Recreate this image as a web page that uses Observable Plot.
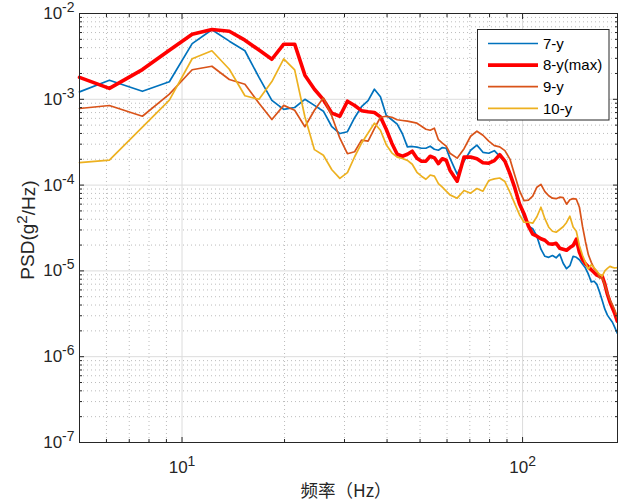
<!DOCTYPE html>
<html><head><meta charset="utf-8">
<script src="https://cdn.jsdelivr.net/npm/d3@7"></script>
<script src="https://cdn.jsdelivr.net/npm/@observablehq/plot@0.6"></script>
<style>html,body{margin:0;padding:0;background:#fff}svg{display:block}</style>
</head><body><div id="chart"></div>
<script>
// Frequency (Hz)
const freq = [5, 6.12, 7.65, 9.18, 10.71, 12.24, 13.77, 15.3, 16.83, 18.36, 19.89, 21.42, 22.95, 24.48, 26.01, 27.54, 29.07, 30.6, 32.13, 33.66, 35.19, 36.72, 38.25, 39.78, 41.31, 42.84, 44.37, 45.9, 47.43, 48.96, 50.49, 52.02, 53.55, 55.08, 56.61, 58.14, 59.67,
  61.2, 64.26, 67.32, 70.38, 73.44, 76.5, 79.56, 82.62, 85.68, 88.74, 91.8, 94.86, 97.92, 100.98, 104.04, 107.1, 110.16, 113.22, 116.28, 119.34, 122.4, 125.46, 128.52, 131.58, 134.64, 137.7, 140.76, 143.82, 146.88, 149.94, 153.0, 156.06, 159.12, 162.18, 165.24, 168.3, 171.36, 174.42, 177.48, 180.54, 183.6, 186.66, 189.72];

// PSD (g^2/Hz)
const psd7y = [1.22e-3, 1.67e-3, 1.24e-3, 1.6e-3, 4.45e-3, 6.47e-3, 4.76e-3, 3.68e-3, 1.8e-3, 9.7e-4, 7.63e-4, 8.03e-4, 1.0e-3, 8.49e-4, 7.27e-4, 4.79e-4, 3.99e-4, 4.19e-4, 6.1e-4, 8.2e-4, 9.63e-4, 1.31e-3, 1.07e-3, 6.52e-4, 5.78e-4, 5.13e-4, 3.97e-4, 2.79e-4, 2.82e-4, 2.77e-4, 2.69e-4, 2.69e-4, 2.84e-4, 2.62e-4, 2.55e-4, 2.74e-4, 2.69e-4,
  2.06e-4, 1.34e-4, 1.9e-4, 2.55e-4, 2.92e-4, 2.41e-4, 2.35e-4, 2.52e-4, 2.17e-4, 1.85e-4, 1.38e-4, 8.96e-5, 5.99e-5, 4.22e-5, 3.32e-5, 3.1e-5, 2.54e-5, 1.79e-5, 1.48e-5, 1.44e-5, 1.51e-5, 1.42e-5, 1.57e-5, 1.23e-5, 1.06e-5, 1.15e-5, 1.48e-5, 1.44e-5, 1.35e-5, 1.2e-5, 1.08e-5, 9.15e-6, 7.44e-6, 7.58e-6, 6.96e-6, 5.67e-6, 4.52e-6, 3.58e-6, 3.05e-6, 2.76e-6, 2.52e-6, 2.18e-6, 1.88e-6];

const psd8y = [1.8e-3, 1.34e-3, 2.22e-3, 3.73e-3, 5.74e-3, 6.51e-3, 6.22e-3, 4.89e-3, 3.75e-3, 2.93e-3, 4.39e-3, 4.39e-3, 1.91e-3, 1.31e-3, 9.9e-4, 6.89e-4, 6.35e-4, 9.5e-4, 8.47e-4, 7.37e-4, 7.17e-4, 7.02e-4, 6.24e-4, 4.48e-4, 3.08e-4, 2.29e-4, 2.17e-4, 2.29e-4, 2.48e-4, 2.06e-4, 1.9e-4, 1.9e-4, 2.17e-4, 2.08e-4, 1.78e-4, 2.03e-4, 1.95e-4,
  1.49e-4, 1.11e-4, 2.12e-4, 2.12e-4, 2.03e-4, 1.82e-4, 1.8e-4, 1.93e-4, 2.26e-4, 1.9e-4, 1.36e-4, 9.33e-5, 6.07e-5, 4.64e-5, 3.32e-5, 2.68e-5, 2.54e-5, 2.37e-5, 2.28e-5, 2.07e-5, 2.05e-5, 2.1e-5, 1.84e-5, 1.79e-5, 1.74e-5, 1.87e-5, 1.98e-5, 2.34e-5, 1.65e-5, 1.36e-5, 1.21e-5, 1.12e-5, 1.03e-5, 9.58e-6, 8.91e-6, 8.63e-6, 8.63e-6, 7.0e-6, 5.35e-6, 4.34e-6, 3.7e-6, 3.16e-6, 2.6e-6];

const psd9y = [7.81e-4, 8.47e-4, 6.35e-4, 1.15e-3, 2.21e-3, 2.43e-3, 1.7e-3, 1.5e-3, 9.0e-4, 5.81e-4, 8.49e-4, 7.46e-4, 4.79e-4, 7.46e-4, 1.04e-3, 6.35e-4, 3.52e-4, 2.32e-4, 2.45e-4, 3.34e-4, 3.25e-4, 4.54e-4, 6.18e-4, 6.35e-4, 6.18e-4, 5.78e-4, 5.66e-4, 5.56e-4, 5.41e-4, 5.27e-4, 4.86e-4, 4.48e-4, 4.36e-4, 4.6e-4, 3.38e-4, 3.08e-4, 2.84e-4,
  2.35e-4, 2.06e-4, 2.66e-4, 3.71e-4, 4.25e-4, 3.81e-4, 3.25e-4, 2.88e-4, 2.79e-4, 2.52e-4, 2.01e-4, 1.3e-4, 8.6e-5, 6.58e-5, 6.67e-5, 7.42e-5, 9.45e-5, 1.02e-4, 8.38e-5, 7.52e-5, 7.04e-5, 6.94e-5, 7.23e-5, 7.14e-5, 5.99e-5, 6.76e-5, 6.96e-5, 6.85e-5, 5.52e-5, 3.32e-5, 2.19e-5, 1.54e-5, 1.26e-5, 1.07e-5, 9.9e-6, 8.29e-6, 8.29e-6, 6.9e-6, 5.49e-6, 4.59e-6, 4.01e-6, 3.48e-6, 2.85e-6];

const psd10y = [1.83e-4, 1.95e-4, 4.73e-4, 9.76e-4, 2.97e-3, 3.68e-3, 2.24e-3, 1.1e-3, 1.0e-3, 1.61e-3, 2.96e-3, 2.2e-3, 6.27e-4, 2.59e-4, 2.23e-4, 1.51e-4, 1.2e-4, 1.4e-4, 2.14e-4, 3.08e-4, 4.05e-4, 5.27e-4, 4.36e-4, 2.96e-4, 2.38e-4, 2.12e-4, 2.04e-4, 1.94e-4, 1.75e-4, 1.41e-4, 1.27e-4, 1.17e-4, 1.31e-4, 1.27e-4, 1.04e-4, 9.45e-5, 8.53e-5,
  7.69e-5, 7.04e-5, 8.65e-5, 8.05e-5, 9.13e-5, 8.49e-5, 1.13e-4, 1.18e-4, 1.21e-4, 1.1e-4, 8.26e-5, 6.07e-5, 4.52e-5, 3.69e-5, 3.69e-5, 3.6e-5, 4.28e-5, 5.52e-5, 4.06e-5, 3.23e-5, 2.9e-5, 2.82e-5, 3.04e-5, 3.27e-5, 3.67e-5, 4.34e-5, 3.25e-5, 2.9e-5, 1.97e-5, 1.52e-5, 1.25e-5, 1.05e-5, 1.18e-5, 1.09e-5, 9.9e-6, 9.15e-6, 8.67e-6, 1.0e-5, 1.07e-5, 1.13e-5, 1.1e-5, 1.08e-5, 1.09e-5];

const seriesNames = ["7-y", "8-y(max)", "9-y", "10-y"];
const seriesValues = [psd7y, psd8y, psd9y, psd10y];
const seriesColors = ["#0072BD", "#FF0000", "#D95319", "#EDB120"];
const seriesWidths = [1.7, 3.6, 1.7, 1.7];

// axis ticks / grid
const xMajor = [10, 100];
const xMinor = [6, 7, 8, 9, 20, 30, 40, 50, 60, 70, 80, 90];
const yMajor = [1e-7, 1e-6, 1e-5, 1e-4, 1e-3, 1e-2];
const yMinor = [2e-7,3e-7,4e-7,5e-7,6e-7,7e-7,8e-7,9e-7, 2e-6,3e-6,4e-6,5e-6,6e-6,7e-6,8e-6,9e-6, 2e-5,3e-5,4e-5,5e-5,6e-5,7e-5,8e-5,9e-5, 2e-4,3e-4,4e-4,5e-4,6e-4,7e-4,8e-4,9e-4, 2e-3,3e-3,4e-3,5e-3,6e-3,7e-3,8e-3,9e-3];
const xLabel = "频率（Hz）";
const yLabelParts = ["PSD(g", "2", "/Hz)"];

const rows = seriesNames.flatMap((name, s) => freq.map((f, i) => ({f, v: seriesValues[s][i], name})));
const expFmt = d => `10^${Math.round(Math.log10(d))}`;
const blank = () => "";
const axisColor = "#262626";

const chart = Plot.plot({
  width: 618, height: 503,
  marginLeft: 79, marginRight: 1, marginTop: 13, marginBottom: 61,
  style: {fontFamily: "'Liberation Sans', Arial, sans-serif", fontSize: "17px", color: axisColor, background: "#fff"},
  x: {type: "log", domain: [5, 190]},
  y: {type: "log", domain: [1e-7, 1e-2]},
  marks: [
    Plot.ruleX(xMinor, {stroke: "#b4b4b4", strokeDasharray: "1,3", strokeWidth: 0.9}),
    Plot.ruleY(yMinor, {stroke: "#b4b4b4", strokeDasharray: "1,3", strokeWidth: 0.9}),
    Plot.ruleX(xMajor, {stroke: "#dcdcdc", strokeWidth: 1}),
    Plot.ruleY(yMajor, {stroke: "#dcdcdc", strokeWidth: 1}),
    ...seriesNames.map((name, s) => Plot.line(rows.filter(r => r.name === name), {
      x: "f", y: "v", stroke: seriesColors[s], strokeWidth: seriesWidths[s], strokeLinejoin: "round"
    })),
    Plot.frame({stroke: axisColor, strokeWidth: 1}),
    Plot.axisX({anchor: "bottom", ticks: xMajor, tickSize: 0, tickPadding: 18, tickFormat: expFmt, label: null, fontSize: 17}),
    Plot.axisY({anchor: "left", ticks: yMajor, tickSize: 0, tickPadding: 5, tickFormat: expFmt, label: null, fontSize: 17}),
    Plot.axisX({anchor: "bottom", ticks: xMajor, tickSize: -5, tickFormat: blank, label: null}),
    Plot.axisX({anchor: "bottom", ticks: xMinor, tickSize: -3, tickFormat: blank, label: null}),
    Plot.axisX({anchor: "top", ticks: xMajor, tickSize: -5, tickFormat: blank, label: null}),
    Plot.axisX({anchor: "top", ticks: xMinor, tickSize: -3, tickFormat: blank, label: null}),
    Plot.axisY({anchor: "left", ticks: yMajor, tickSize: -5, tickFormat: blank, label: null}),
    Plot.axisY({anchor: "left", ticks: yMinor, tickSize: -3, tickFormat: blank, label: null}),
    Plot.axisY({anchor: "right", ticks: yMajor, tickSize: -5, tickFormat: blank, label: null}),
    Plot.axisY({anchor: "right", ticks: yMinor, tickSize: -3, tickFormat: blank, label: null})
  ]
});
document.getElementById("chart").appendChild(chart);

// superscript exponents in tick labels
const svg = d3.select(chart);
svg.selectAll("text").each(function() {
  const t = this.textContent;
  const m = /^10\^(-?\d+)$/.exec(t);
  if (!m) return;
  const el = d3.select(this);
  el.text(null);
  el.append("tspan").text("10");
  el.append("tspan").attr("dy", "-0.5em").attr("font-size", "0.82em").text(m[1]);
});

// axis titles
const yl = svg.append("text")
  .attr("transform", "translate(27,230) rotate(-90)")
  .attr("text-anchor", "middle").attr("dy", "0.35em")
  .attr("font-size", 19).attr("fill", axisColor);
yl.append("tspan").text(yLabelParts[0]);
yl.append("tspan").attr("dy", "-0.45em").attr("font-size", "0.8em").text(yLabelParts[1]);
yl.append("tspan").attr("dy", "0.45em").text(yLabelParts[2]);

svg.append("text")
  .attr("x", 346).attr("y", 497)
  .attr("text-anchor", "middle")
  .attr("font-family", "'Noto Sans CJK SC', 'Liberation Sans', sans-serif")
  .attr("font-size", 17.5).attr("fill", axisColor)
  .text(xLabel);

// legend
const lg = svg.append("g");
lg.append("rect").attr("x", 477.5).attr("y", 29.5).attr("width", 131.5).attr("height", 90.5)
  .attr("fill", "#fff").attr("stroke", axisColor).attr("stroke-width", 1);
seriesNames.forEach((name, s) => {
  const cy = 43.5 + s * 21.6;
  lg.append("line").attr("x1", 488).attr("x2", 538).attr("y1", cy).attr("y2", cy)
    .attr("stroke", seriesColors[s]).attr("stroke-width", seriesWidths[s]);
  lg.append("text").attr("x", 543).attr("y", cy).attr("dy", "0.35em")
    .attr("text-anchor", "start")
    .attr("font-size", 15).attr("fill", "#000").text(name);
});
</script></body></html>
